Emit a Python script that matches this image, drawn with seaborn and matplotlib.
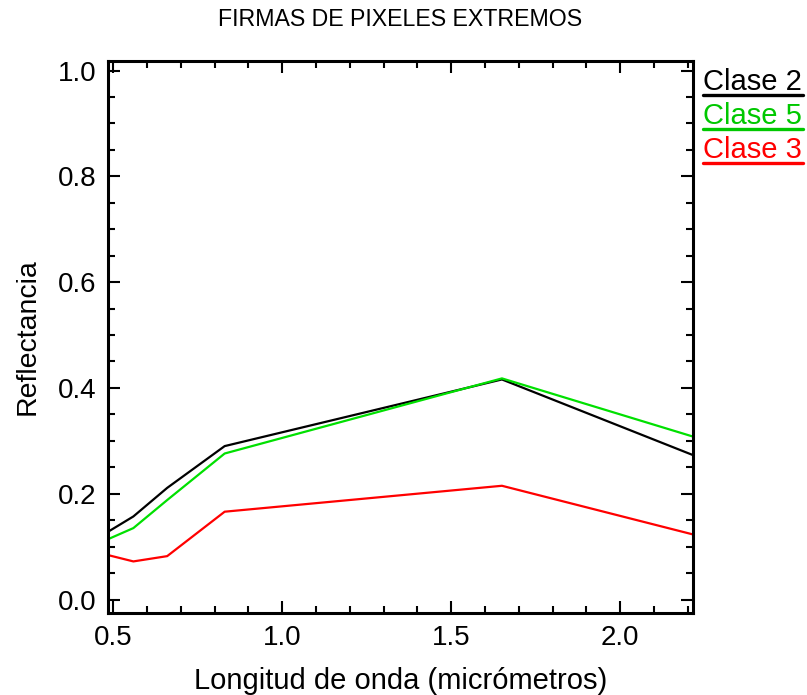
import numpy as np
import pandas as pd
import matplotlib
matplotlib.use("Agg")
import matplotlib.pyplot as plt
from matplotlib.ticker import MultipleLocator
from matplotlib.lines import Line2D
import seaborn as sns

# Data (Landsat TM band centres, micrometres)
wavelength = [0.485, 0.56, 0.66, 0.83, 1.65, 2.215]
clase2 = [0.128, 0.157, 0.211, 0.290, 0.416, 0.273]
clase5 = [0.114, 0.135, 0.188, 0.276, 0.418, 0.308]
clase3 = [0.084, 0.072, 0.082, 0.166, 0.215, 0.123]
series_names = ["Clase 2", "Clase 5", "Clase 3"]
line_colors = ["#000000", "#00e000", "#ff0000"]
legend_colors = ["#000000", "#00c800", "#ff0000"]
yticks = [0.0, 0.2, 0.4, 0.6, 0.8, 1.0]
ytick_labels = ["0.0", "0.2", "0.4", "0.6", "0.8", "1.0"]
xticks = [0.5, 1.0, 1.5, 2.0]
xtick_labels = ["0.5", "1.0", "1.5", "2.0"]

df = pd.DataFrame({
    "x": wavelength * 3,
    "y": clase2 + clase5 + clase3,
    "serie": [series_names[0]] * 6 + [series_names[1]] * 6 + [series_names[2]] * 6,
})

sns.set_theme(style="white")
plt.rcParams["font.family"] = ["Liberation Sans", "DejaVu Sans"]

fig = plt.figure(figsize=(8.07, 6.95), dpi=100)
ax = fig.add_axes([108 / 807, 1 - 613 / 695, (693 - 108) / 807, (613 - 61) / 695])

sns.lineplot(data=df, x="x", y="y", hue="serie", hue_order=series_names,
             palette=dict(zip(series_names, line_colors)), linewidth=1.6,
             legend=False, ax=ax, sort=False)

ax.set_xlim(0.485, 2.215)
ax.set_ylim(-0.0255, 1.018)
ax.xaxis.set_minor_locator(MultipleLocator(0.1))
ax.yaxis.set_minor_locator(MultipleLocator(0.05))
ax.set_yticks(yticks)
ax.set_yticklabels(ytick_labels)
ax.set_xticks(xticks)
ax.set_xticklabels(xtick_labels)
ax.tick_params(which="both", direction="in", top=True, right=True,
               bottom=True, left=True, color="black", width=1.5,
               labelcolor="black")
ax.tick_params(which="major", length=8.6, labelsize=20, pad=8.5)
ax.tick_params(which="minor", length=4.7)
for s in ax.spines.values():
    s.set_color("black")
    s.set_linewidth(2.2)

ax.set_xlabel("Longitud de onda (micrómetros)", fontsize=21, color="black", labelpad=12)
ax.set_ylabel("Reflectancia", fontsize=20.5, color="black", labelpad=12)
fig.text(400 / 807, 1 - 20 / 695, "FIRMAS DE PIXELES EXTREMOS", ha="center",
         va="center", fontsize=16.7, color="black")

# Legend: underlined coloured labels outside the right edge
baselines = [89.5, 124, 157.5]
for name, col, b in zip(series_names, legend_colors, baselines):
    fig.text(703 / 807, 1 - b / 695, name, ha="left", va="baseline",
             fontsize=21, color=col)
    fig.add_artist(Line2D([703 / 807, 803 / 807],
                          [1 - (b + 5) / 695, 1 - (b + 5) / 695],
                          transform=fig.transFigure, color=col, linewidth=2.4))

fig.savefig("out.png", dpi=100)
